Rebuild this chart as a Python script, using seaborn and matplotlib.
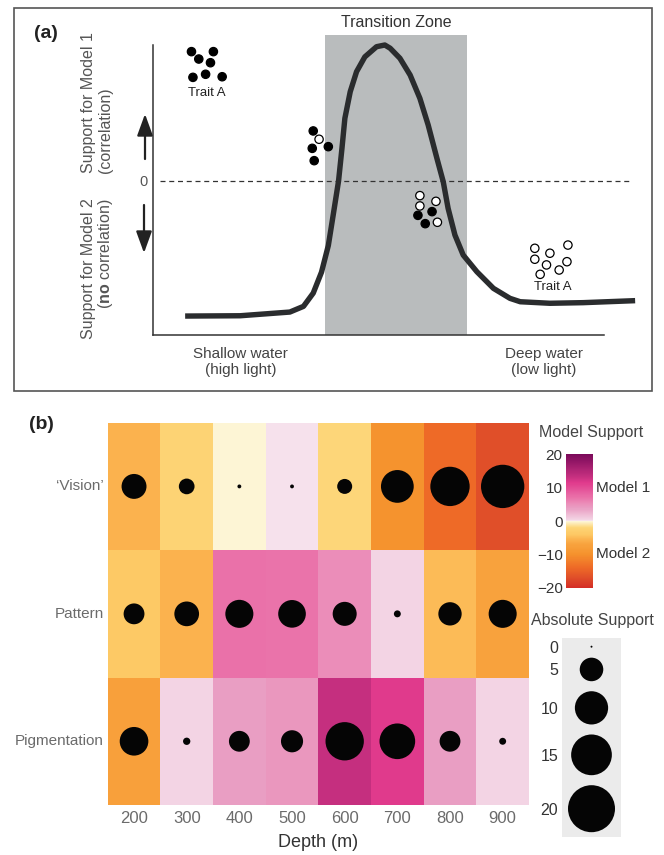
import numpy as np
import pandas as pd
import matplotlib
matplotlib.use('Agg')
import matplotlib.pyplot as plt
import seaborn as sns
from matplotlib.colors import LinearSegmentedColormap
from matplotlib.patches import Rectangle

# ---------------- panel (a): schematic (x = shallow -> deep, y = support) ----
curve_x = [6.6, 17.9, 28.1, 30.9, 32.9, 34.6, 36.0, 37.0, 38.1, 38.8, 39.4, 40.5,
           41.8, 43.5, 45.9, 47.6, 48.7, 50.7, 52.8, 54.8, 56.5, 58.3, 59.6, 60.6,
           62.0, 63.7, 66.5, 69.9, 73.3, 75.4, 81.5, 88.3, 99.0]
curve_y = [-8.77, -8.75, -8.51, -8.14, -7.28, -5.92, -4.19, -2.21, 0.0, 2.12, 4.07, 5.80,
           7.10, 8.06, 8.72, 8.83, 8.62, 7.97, 6.88, 5.37, 3.64, 1.47, -0.05, -1.78,
           -3.51, -4.81, -5.89, -6.97, -7.62, -7.84, -7.94, -7.90, -7.77]

trait_x = [7.9, 12.4, 9.4, 11.8, 8.2, 10.8, 14.2,
           32.9, 34.1, 32.7, 36.0, 33.1,
           54.8, 54.8, 58.1, 58.4, 54.4, 57.3, 55.9,
           78.4, 81.5, 85.2, 78.4, 80.8, 85.0, 79.5, 83.4]
trait_y = [8.40, 8.40, 7.92, 7.68, 6.73, 6.93, 6.77,
           3.25, 2.71, 2.12, 2.23, 1.32,
           -0.95, -1.62, -1.32, -2.68, -2.23, -1.99, -2.77,
           -4.37, -4.69, -4.16, -5.08, -5.45, -5.24, -6.06, -5.78]
trait_state = (['filled'] * 7
               + ['filled', 'open', 'filled', 'filled', 'filled']
               + ['open'] * 4 + ['filled'] * 3
               + ['open'] * 8)
transition_zone = [35.3, 64.5]

# ---------------- panel (b): model support by depth ----------------
depths = [200, 300, 400, 500, 600, 700, 800, 900]
traits = ['\u2018Vision\u2019', 'Pattern', 'Pigmentation']
vision = [-5.6, -2.2, -0.1, 0.1, -2.0, -9.7, -14.0, -17.0]
pattern = [-3.9, -5.5, 7.1, 6.9, 5.2, 0.4, -4.9, -7.1]
pigmentation = [-7.4, 0.45, 3.9, 4.4, 13.3, 11.5, 3.9, 0.4]
cbar_ticks = [-20, -10, 0, 10, 20]
legend_vals = [0, 5, 10, 15, 20]

# colour scale anchors (value, colour)
cmap_vals = [-20, -17, -14, -10, -7, -5.5, -4, -2, -0.01,
             0, 0.4, 4, 5.2, 7, 11.5, 13.3, 20]
cmap_cols = ['#d42e26', '#e04f29', '#ee6a27', '#f5922d', '#f8a33e', '#fbb34f',
             '#fdc864', '#fdd577', '#fdf6d8',
             '#f7e4ee', '#f3d4e4', '#e99cc2', '#eb8eb9', '#ea73aa', '#e03a8c',
             '#c63080', '#7b0a5a']
size_range = (2, 1145)

sns.set_theme(style='white')
plt.rcParams['font.family'] = ['Liberation Sans', 'DejaVu Sans']
plt.rcParams['mathtext.fontset'] = 'custom'
plt.rcParams['mathtext.rm'] = 'Liberation Sans'
plt.rcParams['mathtext.bf'] = 'Liberation Sans:bold'

W, H = 664, 855
fig = plt.figure(figsize=(W / 100, H / 100), dpi=100)


def box(x0, y0, x1, y1):
    return [x0 / W, 1 - y1 / H, (x1 - x0) / W, (y1 - y0) / H]


def fp(x, y):
    return x / W, 1 - y / H


# ================= (a) =================
fig.patches.append(Rectangle(fp(14, 391), 638 / W, 383 / H, transform=fig.transFigure,
                             fill=False, ec='#555555', lw=1.2))
ax_a = fig.add_axes(box(153, 35, 640, 335))
ax_a.axvspan(*transition_zone, color='#b9bcbd', lw=0, zorder=0)
ax_a.axhline(0, xmin=0.014, xmax=0.984, color='#333333', lw=0.9, ls=(0, (4, 3)), zorder=1)
sns.lineplot(x=curve_x, y=curve_y, sort=False, estimator=None, color='#2a2c2e',
             linewidth=3.9, solid_joinstyle='round', solid_capstyle='butt', ax=ax_a, zorder=3)
dots = pd.DataFrame({'x': trait_x, 'y': trait_y, 'state': trait_state})
sns.scatterplot(data=dots, x='x', y='y', hue='state',
                palette={'filled': 'black', 'open': 'white'},
                edgecolor='black', linewidth=0.9, s=36, legend=False, ax=ax_a, zorder=4)
ax_a.set_xlim(0, 100)
ax_a.set_ylim(-10, 9.48)
ax_a.set_xlabel('')
ax_a.set_ylabel('')
for s in ['top', 'right']:
    ax_a.spines[s].set_visible(False)
ax_a.spines['left'].set_bounds(-10, 8.83)
ax_a.spines['bottom'].set_bounds(0, 92.6)
for s in ['left', 'bottom']:
    ax_a.spines[s].set_color('#333333')
    ax_a.spines[s].set_linewidth(1.1)
ax_a.set_xticks([])
ax_a.set_yticks([0], ['0'])
ax_a.tick_params(axis='y', length=0, pad=4, labelsize=10.5, labelcolor='#555555')

ax_a.text(49.9, 10.3, 'Transition Zone', ha='center', va='center', fontsize=11.5,
          color='#333333', clip_on=False)
ax_a.text(11.1, 5.71, 'Trait A', ha='center', va='center', fontsize=9.5, color='#222222')
ax_a.text(82.1, -6.88, 'Trait A', ha='center', va='center', fontsize=9.5, color='#222222')
ax_a.text(18.0, -11.75, 'Shallow water\n(high light)', ha='center', va='center',
          fontsize=11, color='#444444', linespacing=1.25, clip_on=False)
ax_a.text(80.3, -11.75, 'Deep water\n(low light)', ha='center', va='center',
          fontsize=11, color='#444444', linespacing=1.25, clip_on=False)

fig.text(*fp(88, 173), 'Support for Model 1', rotation=90, ha='center', va='bottom',
         fontsize=11.5, color='#555555')
fig.text(*fp(106, 173), '(correlation)', rotation=90, ha='center', va='bottom',
         fontsize=11.5, color='#555555')
fig.text(*fp(88, 198), 'Support for Model 2', rotation=90, ha='center', va='top',
         fontsize=11.5, color='#555555')
fig.text(*fp(106, 199), r'($\mathbf{no}$ correlation)', rotation=90, ha='center', va='top',
         fontsize=11.5, color='#555555')

arrow = dict(arrowstyle='-|>,head_length=1.1,head_width=0.4', lw=1.6, color='#222222',
             shrinkA=0, shrinkB=0)
ax_a.annotate('', xy=(145, H - 114), xycoords='figure pixels',
              xytext=(145, H - 159), textcoords='figure pixels', arrowprops=arrow)
ax_a.annotate('', xy=(144, H - 253), xycoords='figure pixels',
              xytext=(144, H - 205), textcoords='figure pixels', arrowprops=arrow)

fig.text(*fp(46, 34), '(a)', ha='center', va='center', fontsize=14, fontweight='bold',
         color='#222222')

# ================= (b) =================
support = pd.DataFrame([vision, pattern, pigmentation], index=traits, columns=depths)
cmap = LinearSegmentedColormap.from_list(
    'support', [((v + 20) / 40, c) for v, c in zip(cmap_vals, cmap_cols)])

ax_b = fig.add_axes(box(107.7, 422.7, 529, 805))
sns.heatmap(support, cmap=cmap, vmin=-20, vmax=20, cbar=False, ax=ax_b)

long = support.stack().reset_index()
long.columns = ['trait', 'depth', 'value']
long['xi'] = long['depth'].map({d: i + 0.5 for i, d in enumerate(depths)})
long['yi'] = long['trait'].map({t: i + 0.5 for i, t in enumerate(traits)})
long['absval'] = long['value'].abs()
sns.scatterplot(data=long, x='xi', y='yi', size='absval', sizes=size_range,
                size_norm=(0, 20), color='#050505', linewidth=0, legend=False,
                ax=ax_b, zorder=3)
ax_b.set_xlim(0, len(depths))
ax_b.set_ylim(len(traits), 0)
ax_b.set_xticks(np.arange(len(depths)) + 0.5, [str(d) for d in depths])
ax_b.set_yticks(np.arange(len(traits)) + 0.5, traits, rotation=0)
ax_b.tick_params(length=0)
ax_b.tick_params(axis='x', labelsize=12, labelcolor='#6b6b6b', pad=4)
ax_b.tick_params(axis='y', labelsize=11, labelcolor='#6b6b6b', pad=2.7)
ax_b.set_xlabel('Depth (m)', fontsize=13, color='#333333', labelpad=6)
ax_b.set_ylabel('')

# colour bar
cax = fig.add_axes(box(566, 454.3, 593.3, 587.7))
cb = fig.colorbar(ax_b.collections[0], cax=cax)
cb.outline.set_visible(False)
cb.set_ticks(cbar_ticks)
cb.set_ticklabels([str(t).replace('-', '\u2212') for t in cbar_ticks])
cax.yaxis.set_ticks_position('both')
cax.tick_params(axis='y', direction='in', length=4, width=1, color='white',
                labelleft=True, labelright=False, labelsize=11, labelcolor='#333333', pad=2.4)
cax.text(1.1, 10, 'Model 1', transform=cax.get_yaxis_transform(), ha='left', va='center',
         fontsize=11, color='#333333')
cax.text(1.1, -10, 'Model 2', transform=cax.get_yaxis_transform(), ha='left', va='center',
         fontsize=11, color='#333333')
fig.text(*fp(591, 432.7), 'Model Support', ha='center', va='center', fontsize=11.5,
         color='#444444')

# size legend
ax_l = fig.add_axes(box(562.3, 637.7, 620.7, 836.7))
ax_l.set_facecolor('#ebebeb')
s_vals = size_range[0] + (size_range[1] - size_range[0]) * np.array(legend_vals) / 20
key_h = np.sqrt(s_vals) / 0.72 + 10
centers = 3 + np.cumsum(key_h) - key_h / 2
sns.scatterplot(x=np.zeros(len(legend_vals)), y=centers, size=legend_vals, sizes=size_range,
                size_norm=(0, 20), color='#050505', linewidth=0, legend=False, ax=ax_l)
ax_l.set_xlim(-1, 1)
ax_l.set_ylim(199, 0)
ax_l.set_xticks([])
ax_l.set_yticks(centers, [str(v) for v in legend_vals])
ax_l.tick_params(length=0, pad=2.9, labelsize=11.5, labelcolor='#333333')
for s in ax_l.spines.values():
    s.set_visible(False)
fig.text(*fp(592.7, 620.7), 'Absolute Support', ha='center', va='center', fontsize=11.5,
         color='#444444')

fig.text(*fp(41, 424), '(b)', ha='center', va='center', fontsize=14, fontweight='bold',
         color='#222222')

fig.savefig('out.png', dpi=100)
